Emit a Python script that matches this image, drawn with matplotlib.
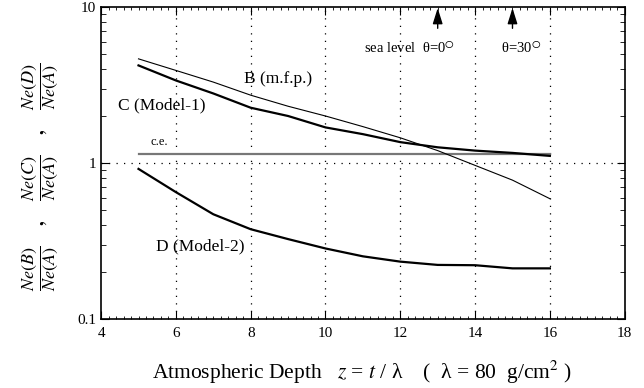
import matplotlib.pyplot as plt
import numpy as np
from matplotlib.ticker import MultipleLocator, LogLocator, NullFormatter, FixedLocator, FixedFormatter

plt.rcParams['font.family'] = ['Liberation Serif', 'DejaVu Serif']
plt.rcParams['mathtext.fontset'] = 'stix'

depth = [5, 6, 7, 8, 9, 10, 11, 12, 13, 14, 15, 16]
ratio_b = [4.65, 3.92, 3.30, 2.72, 2.31, 2.00, 1.71, 1.45, 1.20, 0.965, 0.776, 0.59]
ratio_c = [4.22, 3.38, 2.79, 2.26, 2.00, 1.69, 1.53, 1.36, 1.26, 1.20, 1.16, 1.11]
ratio_d = [0.916, 0.650, 0.469, 0.376, 0.325, 0.283, 0.252, 0.233, 0.222, 0.221, 0.211, 0.211]
ce_x = [5, 16]
ce_y = [1.14, 1.14]
arrow_x = [13, 15]

fig = plt.figure(figsize=(6.44, 3.88), dpi=100)
ax = fig.add_axes([0.157, 0.178, 0.813, 0.804])

ax.set_xlim(4, 18)
ax.set_yscale('log')
ax.set_ylim(0.1, 10)

# grid
for gx in [6, 8, 10, 12, 14, 16]:
    ax.axvline(gx, color='black', lw=0.9, ls=(0, (1, 5)))
ax.axhline(1, color='black', lw=0.9, ls=(0, (1, 5)))

ax.plot(ce_x, ce_y, color='#777777', lw=1.6)
ax.plot(depth, ratio_b, color='black', lw=0.8)
ax.plot(depth, ratio_c, color='black', lw=1.6)
ax.plot(depth, ratio_d, color='black', lw=1.6)

ax.text(7.82, 3.44, 'B (m.f.p.)', fontsize=12.5, va='center')
ax.text(4.44, 2.35, 'C (Model-1)', fontsize=12.5, va='center')
ax.text(5.31, 1.37, 'c.e.', fontsize=9, va='center')
ax.text(5.47, 0.293, 'D (Model-2)', fontsize=12.5, va='center')
ax.text(11.03, 5.43, 'sea level  θ=0$^{\\bigcirc}$', fontsize=10.5, va='center')
ax.text(14.68, 5.43, 'θ=30$^{\\bigcirc}$', fontsize=10.5, va='center')

for axx in arrow_x:
    ax.annotate('', xy=(axx, 9.85), xytext=(axx, 7.3),
                arrowprops=dict(arrowstyle='-|>,head_length=0.8,head_width=0.25',
                                color='black', lw=1.0, mutation_scale=12,
                                shrinkA=0, shrinkB=0))

ax.xaxis.set_major_locator(MultipleLocator(2))
ax.xaxis.set_minor_locator(MultipleLocator(0.2))
ax.yaxis.set_major_locator(FixedLocator([0.1, 1, 10]))
ax.yaxis.set_major_formatter(FixedFormatter(['0.1', '1', '10']))
ax.yaxis.set_minor_locator(LogLocator(base=10, subs=np.arange(2, 10)))
ax.yaxis.set_minor_formatter(NullFormatter())
ax.tick_params(which='both', direction='in', top=True, right=True, labelsize=11)
ax.tick_params(which='major', length=6, width=0.8)
ax.tick_params(which='minor', length=3.5, width=0.6)
ax.tick_params(axis='x', which='minor', length=2)
ax.tick_params(axis='x', which='major', pad=6)
for s in ax.spines.values():
    s.set_linewidth(1.2)

fig.text(362 / 644, 1 - 372 / 388,
         'Atmospheric Depth   $z$ = $t$ / λ    (  λ = 80  g/cm$^2$ )',
         fontsize=15.5, ha='center', va='center')
fig.text(40 / 644, 1 - 177 / 388,
         r'$\dfrac{Ne(B)}{Ne(A)}\;\;\quad\mathbf{,}\quad\;\;\dfrac{Ne(C)}{Ne(A)}\;\;\quad\mathbf{,}\quad\;\;\dfrac{Ne(D)}{Ne(A)}$',
         fontsize=13, rotation=90, ha='center', va='center')

plt.savefig('out.png', dpi=100)
